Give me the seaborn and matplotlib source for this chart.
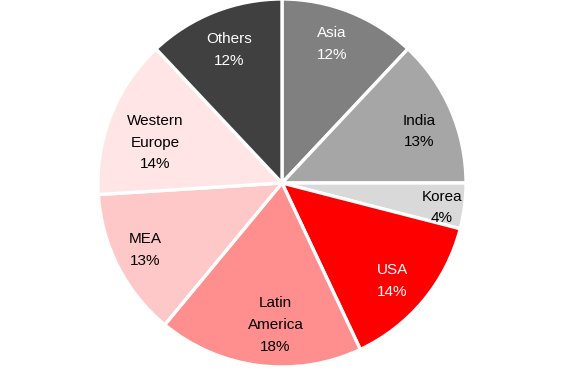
import matplotlib
matplotlib.use("Agg")
import matplotlib.pyplot as plt
import seaborn as sns
import numpy as np

categories = ["Asia", "India", "Korea", "USA", "Latin\nAmerica", "MEA", "Western\nEurope", "Others"]
shares = [12, 13, 4, 14, 18, 13, 14, 12]
colors = ["#808080", "#a6a6a6", "#d9d9d9", "#ff0000", "#ff8f8f", "#ffc8c8", "#ffe5e5", "#404040"]
text_colors = ["white", "black", "black", "white", "black", "black", "black", "white"]
# label nudges (layout only, in pie radius units)
label_nudge = [(-0.022, 0.011), (0.011, -0.038), (0.076, -0.033), (-0.016, -0.022),
               (0.065, 0.022), (-0.033, 0.0), (0.054, -0.076), (0.005, -0.022)]

sns.set_theme(style="white")
plt.rcParams['font.family'] = ['Liberation Sans', 'DejaVu Sans']

fig = plt.figure(figsize=(5.61, 3.69), dpi=100)
W, H = 561, 369
cx, cy, r = 282, 186, 184
ax = fig.add_axes([(cx - r) / W, (cy - r) / H, 2 * r / W, 2 * r / H])

labels = [f"{c}\n{s}%" for c, s in zip(categories, shares)]
wedges, texts = ax.pie(shares, labels=labels, colors=colors, startangle=90, counterclock=False,
                       labeldistance=0.8,
                       wedgeprops=dict(edgecolor="white", linewidth=2.4),
                       textprops=dict(fontsize=11, ha="center", va="center", linespacing=1.7))
for t, c, (dx, dy) in zip(texts, text_colors, label_nudge):
    t.set_color(c)
    t.set_ha("center")
    t.set_va("center")
    x, y = t.get_position()
    t.set_position((x + dx, y + dy))
ax.set_xlim(-1, 1)
ax.set_ylim(-1, 1)
ax.set_aspect("equal")
ax.axis("off")
fig.savefig("out.png", dpi=100)
